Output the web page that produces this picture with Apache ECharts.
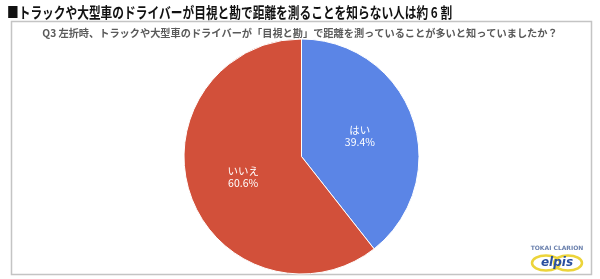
<!DOCTYPE html>
<html><head><meta charset="utf-8">
<script src="https://cdn.jsdelivr.net/npm/echarts@6/dist/echarts.min.js"></script>
<style>html,body{margin:0;padding:0;background:#fff;}#c{width:600px;height:279px;}</style>
</head><body><div id="c"></div>
<script>
const categories = ['はい', 'いいえ'];
const values = [39.4, 60.6];
const colors = ['#5B85E6', '#D2503A'];
const mainTitle = '■トラックや大型車のドライバーが目視と勘で距離を測ることを知らない人は約 6 割';
const subTitle = 'Q3 左折時、トラックや大型車のドライバーが「目視と勘」で距離を測っていることが多いと知っていましたか？';

const chart = echarts.init(document.getElementById('c'), null, {renderer: 'canvas'});
const font = '"Noto Sans CJK JP", "Noto Sans", sans-serif';
chart.setOption({
  backgroundColor: '#fff',
  animation: false,
  title: [
    {text: subTitle, left: 'center', top: 23, textStyle: {fontFamily: font, fontSize: 10.2, fontWeight: 'bold', color: '#5a5a5a'}}
  ],
  graphic: [
    {type: 'text', x: 7, y: 12, scaleX: 0.78, style: {text: mainTitle, x: 0, y: 0, verticalAlign: 'middle', fill: '#111', font: 'bold 15px "Noto Sans CJK JP", sans-serif'}},
    {type: 'rect', shape: {x: 11.5, y: 21.5, width: 580, height: 253}, style: {fill: 'none', stroke: '#c4c4c4', lineWidth: 1.5}, z: -1},
    {type: 'text', style: {text: 'TOKAI CLARION', x: 557, y: 248, align: 'center', verticalAlign: 'middle', fill: '#6a80ad', font: 'bold 6px "DejaVu Sans", sans-serif'}},
    {type: 'ellipse', shape: {cx: 546, cy: 263, rx: 14, ry: 7.5}, style: {fill: 'none', stroke: '#ecd43a', lineWidth: 2.5}},
    {type: 'ellipse', shape: {cx: 568, cy: 263, rx: 14, ry: 7.5}, style: {fill: 'none', stroke: '#ecd43a', lineWidth: 2.5}},
    {type: 'text', style: {text: 'elpis', x: 557, y: 263, align: 'center', verticalAlign: 'middle', fill: '#2a4f9f', font: 'italic bold 12px "DejaVu Sans", sans-serif'}}
  ],
  series: [{
    type: 'pie',
    center: [301.5, 156.5],
    radius: [0, 117.5],
    startAngle: 90,
    clockwise: true,
    data: categories.map((c, i) => ({name: c, value: values[i], itemStyle: {color: colors[i]}})),
    itemStyle: {borderColor: '#fff', borderWidth: 1},
    label: {position: 'inside', formatter: p => p.name + '\n' + p.value.toFixed(1) + '%', color: '#fff', fontFamily: font, fontSize: 10.5, lineHeight: 12},
    labelLine: {show: false},
    emphasis: {disabled: true}
  }]
});
</script></body></html>
